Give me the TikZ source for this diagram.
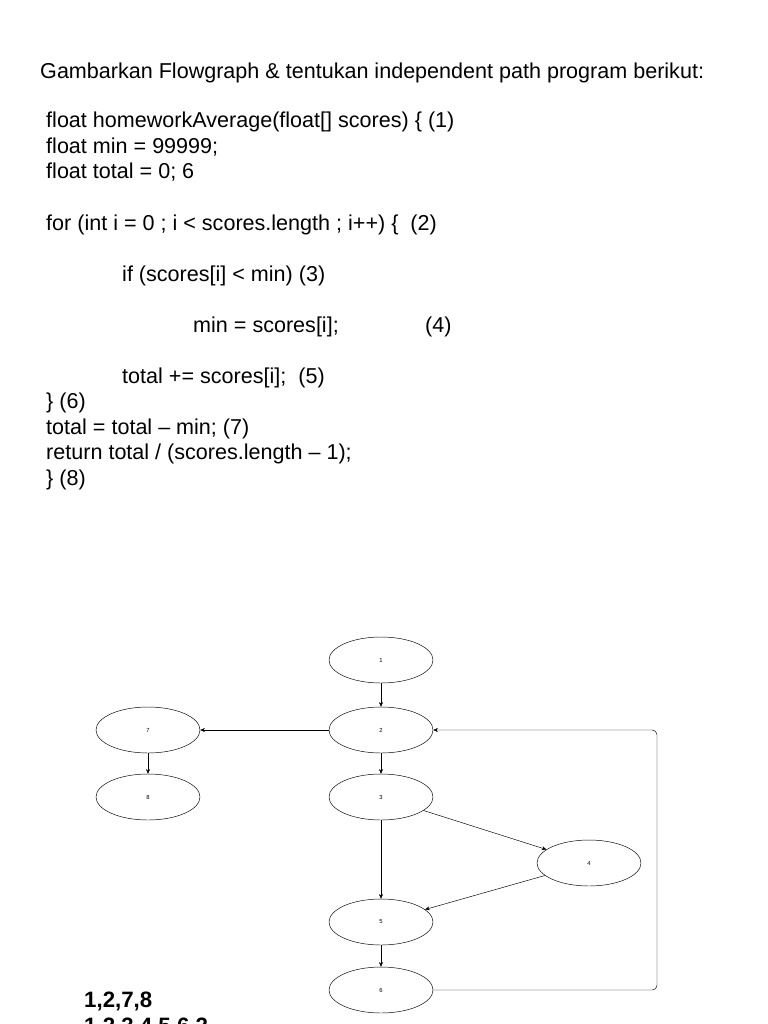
\documentclass[tikz,border=0pt]{standalone}
\usepackage{fontspec}
\setmainfont{Liberation Sans}
\usetikzlibrary{arrows.meta,shapes.geometric}

\begin{document}
\begin{tikzpicture}[x=0.03cm, y=-0.03cm, -{Stealth[length=1.4mm,width=1.2mm]}, line width=0.4pt,
  vertex/.style={draw, ellipse, minimum width=3.12cm, minimum height=1.38cm, inner sep=0pt, font=\fontsize{5}{6}\selectfont},
  codeline/.style={anchor=base west, inner sep=0pt, font=\fontsize{18.4}{20}\selectfont}]
	\clip (0,0) rectangle (768,1024);
	\fill[white] (0,0) rectangle (768,1024);
	% the task and the program
	\node[codeline] (task) at (40,78) {Gambarkan Flowgraph \& tentukan independent path program berikut:};
	\node[codeline] (c1) at (46,127) {float homeworkAverage(float[] scores) \{ (1)};
	\node[codeline] (c2) at (46,153) {float min = 99999;};
	\node[codeline] (c3) at (46,178) {float total = 0; 6};
	\node[codeline] (c4) at (46,230) {for (int i = 0 ; i < scores.length ; i++) \{ \ (2)};
	\node[codeline] (c5) at (122,281) {if (scores[i] < min) (3)};
	\node[codeline] (c6) at (193,332) {min = scores[i];};
	\node[codeline] (c6b) at (425,332) {(4)};
	\node[codeline] (c7) at (122,383) {total += scores[i]; \ (5)};
	\node[codeline] (c8) at (46,408) {\} (6)};
	\node[codeline] (c9) at (46,434) {total = total – min; (7)};
	\node[codeline] (c10) at (46,459) {return total / (scores.length – 1);};
	\node[codeline] (c11) at (46,485) {\} (8)};
	% flowgraph
	\node[vertex] (n1) at (381,660) {1};
	\node[vertex] (n2) at (381,730) {2};
	\node[vertex] (n3) at (381,797) {3};
	\node[vertex] (n4) at (589,863) {4};
	\node[vertex] (n5) at (381,922) {5};
	\node[vertex] (n6) at (381,990) {6};
	\node[vertex] (n7) at (148,730) {7};
	\node[vertex] (n8) at (148,797) {8};
	\coordinate (loop) at (657,730);
	\draw (n1) -- (n2);
	\draw (n2) -- (n3);
	\draw (n2) -- (n7);
	\draw (n7) -- (n8);
	\draw (n3) -- (n5);
	\draw (n3) -- (n4);
	\draw (n4) -- (n5);
	\draw (n5) -- (n6);
	\draw[rounded corners=4pt] (n6.east) -| (loop) -- (n2.east);
	% independent paths
	\node[codeline, font=\fontsize{19}{20}\selectfont\bfseries] (p1) at (84,1007) {1,2,7,8};
	\node[codeline, font=\fontsize{19}{20}\selectfont\bfseries] (p2) at (84,1033) {1,2,3,4,5,6,2};
\end{tikzpicture}
\end{document}
